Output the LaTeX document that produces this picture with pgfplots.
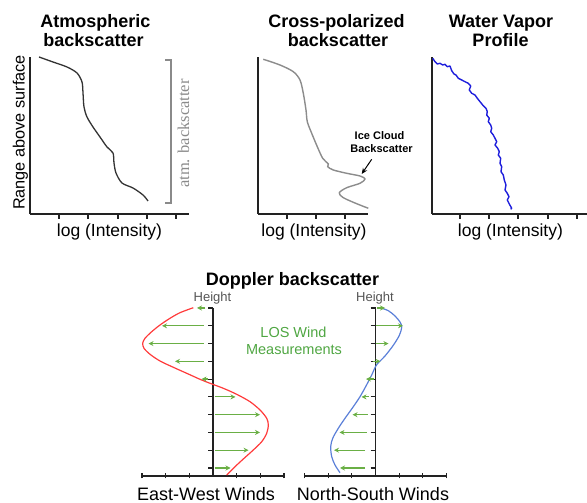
\documentclass[border=0pt]{standalone}
\usepackage{pgfplots}
\pgfplotsset{compat=1.18}
\usepackage{fontspec}
\setmainfont{Liberation Sans}
\newfontfamily\timesfont{Liberation Serif}
\usetikzlibrary{arrows.meta}
\definecolor{axisc}{HTML}{222222}
\definecolor{c1}{HTML}{333333}
\definecolor{c2}{HTML}{8C8C8C}
\definecolor{c3}{HTML}{1E1EDC}
\definecolor{bracketc}{HTML}{8A8A8A}
\definecolor{redc}{HTML}{FF3B3B}
\definecolor{nsblue}{HTML}{5A7FD8}
\definecolor{arrowc}{HTML}{6AAF45}
\definecolor{losc}{HTML}{4FA642}
\definecolor{heightc}{HTML}{555555}

\pgfplotsset{
  toppanel/.style={
    anchor=south west, scale only axis, height=157pt, ymin=0, ymax=157,
    axis lines=left, axis line style={-,line width=1.4pt,draw=axisc},
    ytick=\empty, xticklabels={}, tick align=outside, major tick length=5pt,
    every tick/.style={line width=1.2pt,draw=axisc},
    xlabel={log (Intensity)},
    clip=false,
  },
  windpanel/.style={
    anchor=south west, scale only axis, width=142pt, height=168pt,
    xmin=-71, xmax=71, ymin=0, ymax=168,
    axis lines=middle, axis line style={-,line width=1.2pt,draw=axisc},
    xtick={-71,-47.3,-23.7,0,23.7,47.3,71},
    ytick={8,25.8,43.6,61.3,79.1,96.9,114.7,132.4,150.2,168},
    xticklabels={}, yticklabels={},
    tick align=center, major tick length=5pt,
    every tick/.style={line width=1.1pt,draw=axisc},
    ytick style={xshift=-2.5pt},
    clip=false,
  },
}

\begin{document}
\begin{tikzpicture}[x=1pt,y=1pt]
\useasboundingbox (0,0) rectangle (587,503);

% ---------- Titles ----------
\begin{scope}[every node/.style={font=\bfseries\fontsize{18}{20}\selectfont, anchor=base, inner sep=0pt}]
\node at (95.5,475) {Atmospheric};
\node at (93.5,456.3) {backscatter};
\node at (336.5,475.5) {Cross-polarized};
\node at (338,456.5) {backscatter};
\node at (501,475.5) {Water Vapor};
\node at (500.5,456.5) {Profile};
\node at (292.5,217) {Doppler backscatter};
\end{scope}

% ---------- Panel 1: Atmospheric backscatter ----------
\begin{axis}[toppanel, at={(30pt,289pt)}, width=159pt, xmin=0, xmax=159,
  xtick={29,58,88,117,146},
  ylabel={Range above surface},
  every axis x label/.style={at={(axis description cs:0.5,-0.1465)},anchor=base,inner sep=0pt,font=\fontsize{17.5}{20}\selectfont},
  every axis y label/.style={at={(axis description cs:-0.0597,0.519)},anchor=center,rotate=90,inner sep=0pt,font=\fontsize{16.3}{19}\selectfont},
]
\addplot[smooth, line width=1.3pt, color=c1] coordinates {
 (9,157) (23,152) (37,147) (47,141) (52,132) (53,121) (54,107) (57,97)
 (63,87) (70,77) (77,67) (83,61) (84,51) (86,41) (92,31) (103,26) (113,19) (118,13)};
\draw[bracketc, line width=1.3pt] (axis cs:135,154) -- (axis cs:141,154) -- (axis cs:141,11) -- (axis cs:135,11);
\node[rotate=90, inner sep=0pt, font=\timesfont\fontsize{16.5}{19}\selectfont, text=bracketc] at (axis cs:153.5,80.5) {atm. backscatter};
\end{axis}

% ---------- Panel 2: Cross-polarized backscatter ----------
\begin{axis}[toppanel, at={(258pt,289pt)}, width=110pt, xmin=0, xmax=110,
  xtick={29,58,87},
  every axis x label/.style={at={(axis description cs:0.509,-0.1465)},anchor=base,inner sep=0pt,font=\fontsize{17.5}{20}\selectfont},
]
\addplot[smooth, line width=1.4pt, color=c2] coordinates {
 (5.3,154.7) (22,149) (35.3,142.3) (42,134) (45.3,120.7) (48,104) (49.3,92.3)
 (53.7,80.7) (59.3,67.3) (64.7,55.7) (70.3,50) (69.7,47.3) (75.3,44) (88.7,40.7)
 (102,38) (107,35) (102,30.7) (88.7,26.3) (81.3,21.3) (84.7,16.7) (95.3,11.7) (110.3,5.7)};
\node[anchor=base, inner sep=0pt, font=\bfseries\fontsize{11}{13}\selectfont] at (axis cs:121.5,74) {Ice Cloud};
\node[anchor=base, inner sep=0pt, font=\bfseries\fontsize{11}{13}\selectfont] at (axis cs:123.5,61) {Backscatter};
\draw[-{Stealth[length=6pt,width=5pt]}, line width=1pt] (axis cs:113.7,54.7) -- (axis cs:103.7,40);
\end{axis}

% ---------- Panel 3: Water vapor profile ----------
\begin{axis}[toppanel, at={(432pt,289pt)}, width=155pt, xmin=0, xmax=155,
  xtick={28,57,86,116,145},
  every axis x label/.style={at={(axis description cs:0.506,-0.1465)},anchor=base,inner sep=0pt,font=\fontsize{17.5}{20}\selectfont},
]
\addplot[line width=1.4pt, color=c3, line join=round] coordinates {
 (0.7,155.7) (3,152.3) (5.3,150) (8,150.7) (10.7,149) (13,149.7) (15.3,147.3)
 (18,148) (19.7,143.3) (22,140) (24,139) (26.3,135.7) (29.7,134) (33,132.3)
 (36.3,130.7) (38.7,128) (37.3,124) (39.7,120.7) (43,119) (45.3,115.7) (48,112.3)
 (50.7,109) (54,105.7) (55.3,102.3) (54.7,99) (57.3,95.7) (56.3,92.3) (58.7,89)
 (59.7,85.7) (58.7,82.3) (61.3,79) (63,75.7) (64.7,72.3) (63,69) (65.7,65.7)
 (67.3,62.3) (66.3,59) (68.7,55.7) (68,50.7) (69.7,47.3) (69,42.3) (71.3,39)
 (72.3,34) (74,29) (73,24) (75.3,20.7) (77,17.3) (75.3,14) (77.3,10) (79.7,5.7) (78.7,4.7)};
\end{axis}

% ---------- Doppler: East-West ----------
\begin{axis}[windpanel, at={(142pt,27pt)}]
\addplot[smooth, line width=1.2pt, color=redc] coordinates {
 (-19.7,168.3) (-33,163.3) (-43,157.7) (-53,151) (-61.3,144.3) (-68,137.7)
 (-70.3,132.7) (-69,127.7) (-63,121.7) (-53,115) (-39.7,108.7) (-26.3,102.7)
 (-13,96.7) (-3,92.7) (10.3,87.7) (23.7,81.7) (37,74.3) (47,66) (53.7,57.7)
 (55.3,51) (53.7,42.7) (48.7,34.3) (40.3,26) (30.3,17) (22,9.3) (13.7,1)};
\addplot[quiver={u=\thisrow{u},v=0}, -{Stealth[length=5pt,width=5pt]}, line width=1.2pt, color=arrowc, mark=none]
 table[x=x,y=y] {
 x y u
 -8 168 -8
 -9 150.2 -42
 -9 132.4 -55.5
 -9 114.7 -29
 -5 96.9 -6.5
 1.5 79.1 21
 1.5 61.3 45.5
 1.5 43.6 45.5
 1.5 25.8 34
 1.5 8 16
 };
\end{axis}

% ---------- Doppler: North-South ----------
\begin{axis}[windpanel, at={(304.5pt,27pt)}]
\addplot[smooth, line width=1.2pt, color=nsblue] coordinates {
 (4.5,168.3) (12.8,165.3) (19.5,160) (24.5,154) (26.2,149) (24,141) (18,131)
 (9.5,120) (1,111) (-3.8,101) (-9.5,90) (-15.5,79.3) (-22.2,69.3) (-30.5,57.7)
 (-37.2,47.7) (-42.8,37.7) (-44.8,29.3) (-43.8,19.3) (-40.5,11) (-35.5,3.3)};
\addplot[quiver={u=\thisrow{u},v=0}, -{Stealth[length=5pt,width=5pt]}, line width=1.2pt, color=arrowc, mark=none]
 table[x=x,y=y] {
 x y u
 1.5 168 8
 0.5 150.2 27
 0.5 132.4 12.5
 -3 114.7 8
 -2 96.9 -7.5
 -7 79.1 -7
 -8 61.3 -15
 -9 43.6 -27
 -10.5 25.8 -31
 -10.5 8 -25
 };
\end{axis}

% ---------- Doppler texts ----------
\begin{scope}[every node/.style={anchor=base, inner sep=0pt}]
\node[font=\fontsize{13}{15}\selectfont, text=heightc] at (212.5,201) {Height};
\node[font=\fontsize{13}{15}\selectfont, text=heightc] at (375,201) {Height};
\node[font=\fontsize{14.5}{17}\selectfont, text=losc] at (293.5,165) {LOS Wind};
\node[font=\fontsize{14.5}{17}\selectfont, text=losc] at (294,148) {Measurements};
\node[font=\fontsize{18}{20}\selectfont] at (206,2.5) {East-West Winds};
\node[font=\fontsize{18}{20}\selectfont] at (373,2.5) {North-South Winds};
\end{scope}
\end{tikzpicture}
\end{document}
